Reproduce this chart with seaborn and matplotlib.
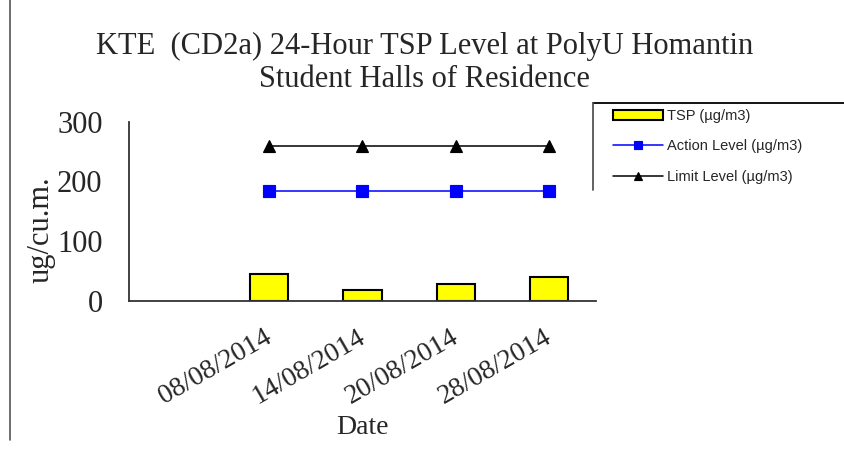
import matplotlib
matplotlib.use('Agg')
import matplotlib.pyplot as plt
import seaborn as sns
from matplotlib.lines import Line2D
from matplotlib.transforms import ScaledTranslation

# data
dates = ['08/08/2014', '14/08/2014', '20/08/2014', '28/08/2014']
tsp = [45, 18, 29, 40]
action_level = [184, 184, 184, 184]
limit_level = [260, 260, 260, 260]

sns.set_style('white')
plt.rcParams['font.family'] = ['Liberation Serif', 'DejaVu Serif']

fig = plt.figure(figsize=(8.44, 4.5), dpi=100)
ax = fig.add_axes([0.1528, 0.3311, 0.5533, 0.3985])

sns.barplot(x=dates, y=tsp, color='#FFFF00', edgecolor='black',
            linewidth=1.5, width=0.41, saturation=1, ax=ax,
            label='TSP (µg/m3)')
sns.pointplot(x=dates, y=action_level, color='#0000FF', marker='s',
              markersize=9, linewidth=1.1, ax=ax,
              label='Action Level (µg/m3)')
sns.pointplot(x=dates, y=limit_level, color='black', marker='^',
              markersize=9, linewidth=1.1, ax=ax,
              label='Limit Level (µg/m3)')

# blank first category like the original sheet
ax.set_xlim(-1.5, len(dates) - 0.5)
ax.set_ylim(0, 300)
ax.set_yticks([0, 100, 200, 300])
ax.set_xticks(range(len(dates)))
ax.set_xticklabels(dates, rotation=30, ha='right', rotation_mode='anchor',
                   fontsize=20)
ax.set_xticks([x - 0.5 for x in range(len(dates) + 1)], minor=True)
ax.tick_params(axis='x', which='major', length=0, pad=17)
ax.tick_params(axis='x', which='minor', direction='in', length=6,
               width=1.2, color='#555555')
ax.tick_params(axis='y', direction='inout', length=14, width=1.2,
               labelsize=22, color='#333333', pad=12)

# nudge the date labels a bit left, as in the original
shift = ScaledTranslation(-4 / 72, 0, fig.dpi_scale_trans)
for lbl in ax.get_xticklabels():
    lbl.set_transform(lbl.get_transform() + shift)

for side in ['top', 'right']:
    ax.spines[side].set_visible(False)
for side in ['left', 'bottom']:
    ax.spines[side].set_color('#333333')
    ax.spines[side].set_linewidth(1.3)

ax.set_xlabel('Date', fontsize=20, labelpad=4)
ax.set_ylabel('ug/cu.m.', fontsize=22)
ax.yaxis.set_label_coords(-0.158, 0.40)
ax.legend().remove()

fig.text(0.503, 0.897, 'KTE  (CD2a) 24-Hour TSP Level at PolyU Homantin',
         ha='center', va='center', fontsize=22)
fig.text(0.503, 0.823, 'Student Halls of Residence',
         ha='center', va='center', fontsize=22)

# legend: TSP first, no frame (frame drawn below like the cut-off box)
handles, labels = ax.get_legend_handles_labels()
order = [labels.index('TSP (µg/m3)'), labels.index('Action Level (µg/m3)'),
         labels.index('Limit Level (µg/m3)')]
leg = fig.legend([handles[i] for i in order], [labels[i] for i in order],
                 loc='upper left', bbox_to_anchor=(613 / 844, 1 - 109 / 450),
                 prop={'family': 'Liberation Sans', 'size': 10.5},
                 frameon=False, handlelength=3.4, handletextpad=0.3,
                 labelspacing=1.12, borderpad=0, borderaxespad=0,
                 markerscale=0.6)

box_x, box_top, box_bottom = 593 / 844, 1 - 103 / 450, 1 - 190 / 450
fig.add_artist(Line2D([box_x, 1.0], [box_top, box_top], color='black',
                      linewidth=1.3))
fig.add_artist(Line2D([box_x, box_x], [box_top, box_bottom], color='#555555',
                      linewidth=1.3))

# page border on the left
fig.add_artist(Line2D([0.012, 0.012], [0.022, 1.0], color='#555555',
                      linewidth=1.2))

fig.savefig('out.png', dpi=100, facecolor='white')
